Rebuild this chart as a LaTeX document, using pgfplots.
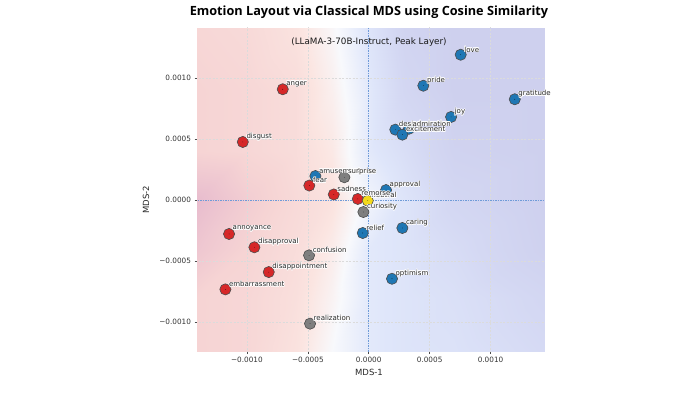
\documentclass[border=0pt]{standalone}
\usepackage{fontspec}
\setmainfont{DejaVu Sans}
\newfontfamily\titlefont{Open Sans}
\usepackage{pgfplots}
\usepackage{pgfplotstable}
\pgfplotsset{compat=1.18}
\usepackage{contour}
\contourlength{0.6pt}
\contournumber{12}

\definecolor{tabblue}{HTML}{1F77B4}
\definecolor{tabred}{HTML}{D62728}
\definecolor{tabgray}{HTML}{7F7F7F}
\definecolor{neutralyellow}{HTML}{F2D91C}
\definecolor{zeroline}{HTML}{6F9BD8}
\definecolor{ticktext}{HTML}{333333}

% MDS coordinates, grouped by emotion class
\pgfplotstableread{
x y name
0.000755 0.001193 love
0.000448 0.000939 pride
0.001199 0.000828 gratitude
0.000676 0.000683 joy
0.000218 0.000579 desire
0.000330 0.000586 admiration
0.000276 0.000538 excitement
0.000142 0.000084 approval
-0.000438 0.000199 amusement
0.000276 -0.000227 caring
-0.000049 -0.000268 relief
0.000191 -0.000643 optimism
}\tblpos

\pgfplotstableread{
x y name
-0.000200 0.000189 surprise
-0.000044 -0.000096 curiosity
-0.000490 -0.000451 confusion
-0.000482 -0.001011 realization
}\tblamb

\pgfplotstableread{
x y name
-0.000706 0.000910 anger
-0.001034 0.000478 disgust
-0.000488 0.000121 fear
-0.000287 0.000048 sadness
-0.000090 0.000011 remorse
-0.001147 -0.000276 annoyance
-0.000939 -0.000385 disapproval
-0.000821 -0.000588 disappointment
-0.001177 -0.000730 embarrassment
}\tblneg

\pgfplotstableread{
x y name
-0.000008 -0.000003 neutral
}\tblneu

% valence field behind the points (rows top to bottom, x varies fastest)
\pgfplotstableread{
x y c
-0.00141 0.00141 -0.55
-0.00100 0.00141 -0.50
-0.00060 0.00141 -0.35
-0.00030 0.00141 -0.05
0.00000 0.00141 0.40
0.00030 0.00141 0.85
0.00070 0.00141 1.00
0.00144 0.00141 1.00
-0.00141 0.00090 -0.60
-0.00100 0.00090 -0.55
-0.00060 0.00090 -0.45
-0.00030 0.00090 -0.15
0.00000 0.00090 0.30
0.00030 0.00090 0.75
0.00070 0.00090 1.00
0.00144 0.00090 1.00
-0.00141 0.00040 -0.60
-0.00100 0.00040 -0.55
-0.00060 0.00040 -0.45
-0.00030 0.00040 -0.25
0.00000 0.00040 0.30
0.00030 0.00040 0.55
0.00070 0.00040 0.90
0.00144 0.00040 1.00
-0.00141 0.00000 -0.95
-0.00100 0.00000 -0.70
-0.00060 0.00000 -0.50
-0.00030 0.00000 -0.35
0.00000 0.00000 0.10
0.00030 0.00000 0.40
0.00070 0.00000 0.75
0.00144 0.00000 1.00
-0.00141 -0.00040 -0.80
-0.00100 -0.00040 -0.60
-0.00060 -0.00040 -0.45
-0.00030 -0.00040 -0.20
0.00000 -0.00040 0.30
0.00030 -0.00040 0.40
0.00070 -0.00040 0.60
0.00144 -0.00040 0.95
-0.00141 -0.00080 -0.60
-0.00100 -0.00080 -0.55
-0.00060 -0.00080 -0.40
-0.00030 -0.00080 -0.10
0.00000 -0.00080 0.30
0.00030 -0.00080 0.40
0.00070 -0.00080 0.50
0.00144 -0.00080 0.75
-0.00141 -0.00124 -0.60
-0.00100 -0.00124 -0.55
-0.00060 -0.00124 -0.35
-0.00030 -0.00124 0.00
0.00000 -0.00124 0.30
0.00030 -0.00124 0.40
0.00070 -0.00124 0.45
0.00144 -0.00124 0.65
}\tblfield

\tikzset{
  gridline/.style={black!14, dash pattern=on 2pt off 1.5pt, line width=0.5pt},
}
\pgfplotsset{
  emolabel/.style={
    only marks, mark=*, mark size=0.01pt, mark options={draw=none, fill=none},
    point meta=explicit symbolic,
    nodes near coords={\contour{white}{\pgfplotspointmeta}},
    every node near coord/.append style={
      anchor=west, inner sep=0pt, xshift=3.5pt, yshift=5pt,
      font=\fontsize{7}{8}\selectfont, text=black!85},
  },
  emomark/.style={
    only marks, mark=*, mark size=5.6pt,
    mark options={draw=black!70, line width=0.6pt, fill=#1},
  },
}

\begin{document}
\begin{tikzpicture}
\path[use as bounding box] (-197.5pt,-51pt) rectangle (478.5pt,351pt);
\begin{axis}[
  at={(0pt,0pt)}, anchor=south west,
  scale only axis, width=346.5pt, height=323pt,
  xmin=-0.001406, xmax=0.001439,
  ymin=-0.001235, ymax=0.001412,
  axis x line*=bottom, axis y line*=left,
  axis line style={black!60, line width=0.8pt},
  tick align=outside, major tick length=3pt,
  tick style={black!70, line width=0.6pt},
  xtick={-0.001,-0.0005,0,0.0005,0.001},
  ytick={-0.001,-0.0005,0,0.0005,0.001},
  xticklabels={−0.0010,−0.0005,0.0000,0.0005,0.0010},
  yticklabels={−0.0010,−0.0005,0.0000,0.0005,0.0010},
  ticklabel style={font=\fontsize{7.3}{8}\selectfont, text=ticktext},
  scaled ticks=false,
  colormap={emo}{rgb255(0cm)=(230,185,205) rgb255(4cm)=(246,212,212) rgb255(7cm)=(251,229,225) rgb255(10cm)=(248,249,252) rgb255(13.5cm)=(223,230,250) rgb255(17cm)=(212,216,243) rgb255(20cm)=(206,208,238)},
  point meta min=-1, point meta max=1,
]
\addplot[surf, shader=interp, mesh/cols=8, point meta=explicit]
  table[x=x, y=y, meta=c] {\tblfield};

% grid lines over the field
\foreach \g in {-0.001,-0.0005,0.0005,0.001} {
  \edef\tmp{\noexpand\draw[gridline] (axis cs:\g,-0.002) -- (axis cs:\g,0.002);
    \noexpand\draw[gridline] (axis cs:-0.002,\g) -- (axis cs:0.002,\g);}
  \tmp
}

\draw[zeroline, line width=0.6pt, dash pattern=on 1.5pt off 1pt]
  (axis cs:0,-0.002) -- (axis cs:0,0.002);
\draw[zeroline, line width=0.6pt, dash pattern=on 1.5pt off 1pt]
  (axis cs:-0.002,0) -- (axis cs:0.002,0);

\addplot[emomark=tabblue] table[x=x, y=y] {\tblpos};
\addplot[emomark=tabgray] table[x=x, y=y] {\tblamb};
\addplot[emomark=tabred] table[x=x, y=y] {\tblneg};
\addplot[emomark=neutralyellow] table[x=x, y=y] {\tblneu};

\addplot[emolabel] table[x=x, y=y, meta=name] {\tblneu};
\addplot[emolabel] table[x=x, y=y, meta=name] {\tblpos};
\addplot[emolabel] table[x=x, y=y, meta=name] {\tblamb};
\addplot[emolabel] table[x=x, y=y, meta=name] {\tblneg};
\end{axis}
\node[font=\fontsize{8.8}{10}\selectfont, text=black!90] at (171.5pt,309pt)
  {(LLaMA-3-70B-Instruct, Peak Layer)};
\node[font=\titlefont\bfseries\fontsize{12.7}{14}\selectfont] at (171.5pt,339pt)
  {Emotion Layout via Classical MDS using Cosine Similarity};
\node[font=\fontsize{8.5}{10}\selectfont, text=black!85] at (171.5pt,-21pt) {MDS-1};
\node[font=\fontsize{8.5}{10}\selectfont, text=black!85, rotate=90] at (-51.5pt,151pt) {MDS-2};
\end{tikzpicture}
\end{document}
